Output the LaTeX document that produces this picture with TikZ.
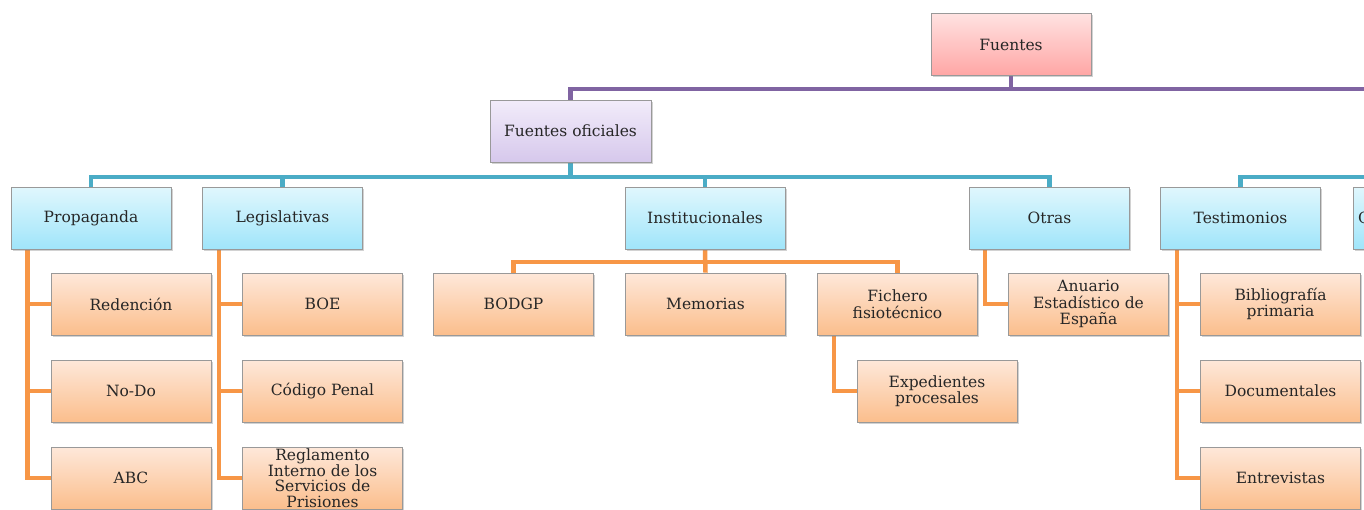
\documentclass[tikz,border=0pt]{standalone}
\usepackage{fontspec}
\setmainfont{DejaVu Serif}
\usetikzlibrary{shadows,backgrounds}
\definecolor{pur}{HTML}{8064A2}
\definecolor{blu}{HTML}{4BACC6}
\definecolor{ora}{HTML}{F79646}
\tikzset{
  box/.style={draw=black!40, line width=0.8pt, minimum width=160pt, minimum height=62pt,
    inner sep=1pt, align=center, text=black!85,
    font=\fontsize{15.5}{16.5}\selectfont,
    drop shadow={opacity=0.35, shadow xshift=1.5pt, shadow yshift=-1.5pt}},
  redbox/.style={box, top color={rgb,255:red,255;green,226;blue,226}, bottom color={rgb,255:red,255;green,166;blue,164}},
  lilbox/.style={box, top color={rgb,255:red,242;green,236;blue,250}, bottom color={rgb,255:red,214;green,200;blue,236}},
  blubox/.style={box, top color={rgb,255:red,224;green,247;blue,253}, bottom color={rgb,255:red,160;green,229;blue,250}},
  orabox/.style={box, top color={rgb,255:red,254;green,232;blue,218}, bottom color={rgb,255:red,251;green,190;blue,140}},
  purline/.style={draw=pur, line width=4.5pt},
  bluline/.style={draw=blu, line width=4.5pt},
  oraline/.style={draw=ora, line width=4.5pt},
}
\begin{document}
\begin{tikzpicture}[x=1pt,y=1pt]
\useasboundingbox (0,0) rectangle (1364,-509);
\clip (0,0) rectangle (1364,-509);
% bus coordinates
\coordinate (pbus) at (0,-89);
\coordinate (pend) at (1370,-89);
\coordinate (bbus) at (0,-177);
\coordinate (bend) at (1370,-177);
\coordinate (obus) at (0,-262);
% nodes
\node[redbox] (fuentes) at (1011,-44.5) {Fuentes};
\node[lilbox, minimum width=161pt] (fo) at (570.5,-131) {Fuentes oficiales};
\node[blubox] (prop) at (91,-218) {Propaganda};
\node[blubox] (legis) at (282.5,-218) {Legislativas};
\node[blubox] (inst) at (705,-218) {Institucionales};
\node[blubox] (otras) at (1049.5,-218) {Otras};
\node[blubox] (testi) at (1240.5,-218) {Testimonios};
\node[blubox, text width=150pt, align=left] (cbox) at (1433,-218) {C};
\node[orabox] (reden) at (131,-304) {Redención};
\node[orabox] (nodo) at (131,-391) {No-Do};
\node[orabox] (abc) at (131,-478) {ABC};
\node[orabox] (boe) at (322.5,-304) {BOE};
\node[orabox] (codigo) at (322.5,-391) {Código Penal};
\node[orabox, font=\fontsize{15.5}{15.5}\selectfont] (regla) at (322.5,-478) {Reglamento\\Interno de los\\Servicios de\\Prisiones};
\node[orabox] (bodgp) at (513.5,-304) {BODGP};
\node[orabox] (memo) at (705.5,-304) {Memorias};
\node[orabox] (fichero) at (897.5,-304) {Fichero\\fisiotécnico};
\node[orabox] (exped) at (937,-391) {Expedientes\\procesales};
\node[orabox] (anuario) at (1088.5,-304) {Anuario\\Estadístico de\\España};
\node[orabox] (biblio) at (1280.5,-304) {Bibliografía\\primaria};
\node[orabox] (docu) at (1280.5,-391) {Documentales};
\node[orabox] (entre) at (1280.5,-478) {Entrevistas};
% connectors
\begin{scope}[on background layer]
\fill[white] (0,0) rectangle (1364,-509);
\draw[purline] (fuentes.south) -- (fuentes.south |- pbus);
\draw[purline] (fo.north) -- (fo.north |- pbus) -- (pend);
\draw[bluline] (fo.south) -- (fo.south |- bbus);
\draw[bluline] (prop.north) -- (prop.north |- bbus) -- (otras.north |- bbus) -- (otras.north);
\draw[bluline] (legis.north) -- (legis.north |- bbus);
\draw[bluline] (inst.north) -- (inst.north |- bbus);
\draw[bluline] (testi.north) -- (testi.north |- bbus) -- (bend);
\draw[oraline] ([xshift=17pt]prop.south west) |- (reden.west);
\draw[oraline] ([xshift=17pt]prop.south west) |- (nodo.west);
\draw[oraline] ([xshift=17pt]prop.south west) |- (abc.west);
\draw[oraline] ([xshift=17pt]legis.south west) |- (boe.west);
\draw[oraline] ([xshift=17pt]legis.south west) |- (codigo.west);
\draw[oraline] ([xshift=17pt]legis.south west) |- (regla.west);
\draw[oraline] (bodgp.north) -- (bodgp.north |- obus) -- (fichero.north |- obus) -- (fichero.north);
\draw[oraline] (inst.south) -- (memo.north);
\draw[oraline] ([xshift=17pt]fichero.south west) |- (exped.west);
\draw[oraline] ([xshift=16pt]otras.south west) |- (anuario.west);
\draw[oraline] ([xshift=17pt]testi.south west) |- (biblio.west);
\draw[oraline] ([xshift=17pt]testi.south west) |- (docu.west);
\draw[oraline] ([xshift=17pt]testi.south west) |- (entre.west);
\end{scope}
\end{tikzpicture}
\end{document}
